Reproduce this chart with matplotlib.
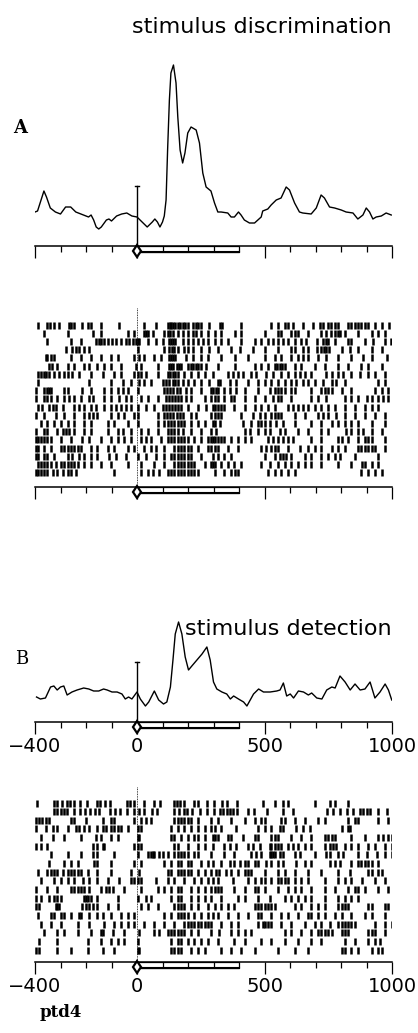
import matplotlib
matplotlib.use("Agg")
import matplotlib.pyplot as plt
from matplotlib.patches import Rectangle

plt.rcParams['font.family'] = ['DejaVu Sans']

# ---- PSTH curves (time in ms, height in arbitrary rate units) ----
psth_a_t = [-400, -390, -380, -370, -365, -355, -340, -320, -300, -280,
            -260, -240, -220, -200, -190, -180, -170, -160, -150, -140,
            -120, -110, -100, -80, -60, -40, -20, 0, 20, 40,
            60, 70, 80, 90, 100, 107, 114, 120, 127, 133,
            143, 153, 160, 169, 179, 188, 199, 212, 232, 245,
            258, 271, 290, 304, 317, 330, 356, 369, 382, 398,
            408, 421, 441, 461, 474, 487, 493, 513, 526, 546,
            565, 585, 598, 618, 637, 650, 683, 703, 722, 735,
            755, 775, 801, 820, 847, 866, 886, 899, 912, 925,
            938, 958, 977, 997]
psth_a_h = [34, 35, 43, 51, 55, 49, 38, 34, 32, 39,
            39, 34, 32, 30, 29, 31, 26, 19, 17, 19,
            26, 27, 25, 30, 32, 33, 30, 29, 24, 19,
            24, 27, 24, 19, 24, 30, 46, 96, 146, 173,
            181, 163, 129, 96, 83, 93, 113, 119, 116, 103,
            73, 59, 55, 43, 34, 34, 33, 29, 29, 34,
            31, 26, 23, 23, 26, 29, 35, 37, 41, 46,
            48, 59, 56, 43, 34, 33, 32, 38, 51, 48,
            39, 38, 36, 34, 33, 27, 31, 38, 34, 27,
            29, 30, 33, 31]

psth_b_t = [-394, -379, -359, -339, -326, -313, -300, -287, -274, -255,
            -235, -209, -189, -170, -150, -131, -117, -98, -78, -59,
            -46, -33, -20, 0, 13, 33, 46, 68, 85, 104,
            117, 131, 141, 150, 163, 176, 189, 202, 215, 235,
            255, 274, 287, 300, 313, 333, 352, 366, 379, 398,
            418, 431, 444, 457, 477, 496, 522, 548, 561, 574,
            587, 601, 614, 633, 653, 672, 685, 705, 725, 744,
            764, 777, 796, 816, 836, 855, 875, 894, 914, 933,
            953, 973, 986, 999]
psth_b_h = [25, 23, 24, 35, 36, 32, 35, 36, 27, 30,
            32, 34, 33, 31, 31, 33, 32, 30, 30, 28,
            23, 25, 23, 30, 23, 16, 20, 31, 22, 18,
            20, 35, 62, 88, 100, 88, 65, 52, 56, 62,
            68, 75, 62, 40, 33, 30, 28, 23, 26, 23,
            20, 16, 22, 28, 33, 30, 30, 31, 32, 39,
            26, 28, 24, 31, 30, 27, 29, 24, 23, 32,
            35, 34, 46, 40, 32, 38, 32, 33, 40, 24,
            30, 38, 32, 22]

# ---- spike rasters (ms, one list per trial, top trial first) ----
raster_a = [
    [-388, -351, -341, -325, -305, -266, -257, -246, -214, -191, -181, -141, -69, 29, 75, 121, 128, 135, 142, 150, 160, 170, 180, 190, 199, 219, 230, 240, 252, 284, 324, 334, 409, 527, 553, 579, 592, 612, 651, 690, 717, 730, 749, 762, 776, 789, 828, 841, 854, 867, 880, 893, 907, 933, 959, 989],
    [-364, -272, -174, -141, -37, -10, 29, 36, 42, 62, 107, 121, 130, 140, 160, 179, 199, 219, 230, 252, 278, 304, 330, 383, 409, 501, 553, 566, 605, 618, 631, 671, 723, 743, 762, 776, 789, 796, 815, 867, 920, 946, 972],
    [-351, -259, -220, -161, -150, -140, -130, -115, -100, -82, -63, -43, -30, -17, -4, 3, 9, 42, 75, 101, 127, 135, 142, 150, 179, 199, 219, 238, 258, 278, 304, 330, 356, 409, 461, 487, 514, 533, 553, 572, 592, 618, 645, 664, 705, 730, 740, 749, 776, 828, 841, 893, 926, 972, 998],
    [-279, -253, -240, -227, -207, -187, 3, 107, 127, 137, 147, 160, 186, 199, 219, 252, 284, 317, 369, 402, 455, 501, 553, 605, 618, 651, 671, 705, 723, 733, 743, 753, 802, 835, 867, 920, 959],
    [-358, -351, -338, -325, -259, -220, -181, -141, -102, -76, -10, 9, 29, 68, 94, 127, 135, 142, 150, 193, 219, 252, 278, 330, 383, 435, 501, 540, 566, 605, 631, 651, 671, 710, 743, 789, 841, 887, 920, 979],
    [-345, -332, -312, -272, -246, -207, -187, -155, -128, -102, -63, -4, 16, 81, 127, 135, 142, 155, 165, 173, 199, 210, 220, 230, 240, 250, 271, 317, 383, 461, 487, 514, 540, 550, 560, 570, 579, 618, 645, 697, 736, 789, 828, 880, 907, 959],
    [-390, -377, -364, -357, -344, -325, -305, -286, -272, -253, -227, -181, -135, -89, -63, -10, 3, 16, 35, 81, 121, 130, 140, 150, 160, 186, 212, 238, 265, 298, 356, 376, 396, 415, 448, 468, 507, 533, 566, 592, 618, 638, 658, 684, 743, 763, 789, 808, 841, 874, 907, 933, 972],
    [-390, -187, -102, -56, -24, 9, 29, 55, 101, 114, 127, 140, 150, 160, 180, 199, 225, 252, 284, 317, 324, 363, 389, 435, 474, 500, 527, 553, 579, 605, 625, 651, 671, 697, 730, 763, 782, 815, 946, 972],
    [-397, -364, -351, -344, -338, -286, -272, -214, -181, -128, -102, -76, -56, -37, 3, 107, 118, 130, 142, 155, 168, 193, 212, 252, 291, 297, 310, 317, 343, 363, 389, 422, 474, 520, 540, 553, 566, 579, 605, 618, 684, 723, 736, 749, 763, 802, 841, 933, 959, 985],
    [-397, -364, -351, -338, -312, -286, -266, -246, -220, -187, -174, -128, -102, -69, -43, -24, 16, 42, 81, 114, 125, 137, 150, 162, 173, 193, 212, 265, 291, 304, 317, 343, 369, 382, 422, 461, 500, 533, 553, 566, 605, 684, 710, 743, 815, 841, 867, 900, 920, 946, 966, 985],
    [-390, -371, -344, -331, -318, -292, -246, -227, -207, -181, -161, -128, -102, -82, -63, -43, -24, 3, 35, 68, 101, 112, 125, 137, 150, 162, 173, 199, 238, 271, 297, 304, 317, 330, 343, 382, 422, 461, 487, 514, 540, 592, 612, 631, 651, 671, 697, 723, 749, 776, 815, 854, 893, 920, 946],
    [-397, -364, -318, -286, -246, -207, -187, -174, -155, -102, -76, -50, -10, 3, 81, 107, 118, 130, 142, 155, 168, 180, 212, 232, 291, 304, 317, 330, 409, 455, 481, 500, 527, 540, 553, 566, 618, 658, 710, 730, 749, 782, 815, 854, 893, 933, 972],
    [-377, -351, -325, -299, -272, -246, -207, -181, -115, -89, -37, 3, 81, 107, 120, 133, 147, 160, 173, 186, 212, 238, 265, 297, 304, 324, 415, 448, 474, 487, 500, 520, 546, 572, 618, 684, 723, 763, 789, 815, 841, 867, 920, 972],
    [-398, -364, -351, -312, -292, -279, -266, -246, -207, -181, -115, -76, -56, -24, 16, 42, 81, 121, 133, 147, 160, 180, 212, 252, 291, 310, 422, 442, 474, 500, 520, 559, 579, 631, 671, 723, 749, 821, 841, 867, 887, 920, 959],
    [-398, -390, -377, -364, -351, -338, -299, -259, -214, -187, -141, -102, -76, -50, -24, 16, 35, 55, 94, 121, 134, 147, 160, 173, 186, 199, 225, 252, 278, 291, 297, 304, 317, 330, 343, 369, 396, 422, 448, 514, 533, 553, 572, 592, 612, 684, 723, 789, 802, 828, 867, 893, 907, 920, 972],
    [-398, -390, -364, -338, -299, -286, -272, -259, -246, -233, -220, -181, -155, -115, -89, -37, -10, 29, 55, 75, 107, 147, 160, 173, 186, 199, 212, 238, 278, 291, 304, 317, 356, 396, 487, 507, 527, 540, 553, 592, 638, 671, 697, 723, 763, 789, 815, 867, 880, 893, 907, 920, 933, 972],
    [-398, -390, -364, -351, -325, -272, -253, -227, -207, -181, -155, -109, -82, -43, 3, 35, 75, 107, 134, 147, 160, 173, 186, 199, 212, 252, 297, 317, 343, 369, 500, 540, 559, 572, 586, 605, 658, 684, 723, 749, 776, 795, 854, 946],
    [-390, -377, -364, -351, -338, -318, -299, -286, -272, -259, -246, -233, -207, -181, -141, -102, -37, 16, 68, 107, 147, 160, 173, 186, 199, 212, 225, 265, 291, 297, 304, 330, 356, 382, 409, 487, 520, 553, 579, 605, 631, 658, 684, 723, 789, 841, 881, 893, 920, 946],
    [-398, -390, -377, -364, -351, -331, -312, -292, -272, -259, -240, -89, 16, 42, 62, 88, 121, 133, 147, 160, 173, 186, 199, 212, 225, 240, 304, 343, 369, 383, 396, 514, 540, 566, 592, 618, 880, 907, 933, 959],
]

raster_b = [
    [-392, -326, -313, -294, -274, -261, -248, -222, -196, -157, -144, -124, -104, -39, -26, -13, 26, 65, 91, 144, 157, 170, 183, 222, 241, 274, 300, 333, 352, 392, 496, 542, 574, 594, 698, 757, 777, 829],
    [-326, -313, -300, -287, -274, -248, -222, -202, -183, -163, -150, -104, -85, -65, -39, -13, 7, 26, 59, 78, 144, 163, 183, 196, 215, 248, 274, 300, 326, 339, 352, 365, 378, 392, 437, 457, 509, 574, 613, 744, 770, 796, 822, 848, 874, 887, 900, 913, 946, 979],
    [-397, -384, -371, -357, -344, -259, -246, -200, -135, -102, -89, -10, 16, 35, 55, 147, 160, 173, 186, 199, 212, 238, 291, 317, 369, 422, 461, 487, 500, 566, 579, 618, 658, 710, 736, 828, 854, 867, 946, 985],
    [-397, -357, -331, -312, -272, -240, -227, -207, -187, -155, -135, -122, -102, -89, -76, -63, -37, 3, 16, 134, 160, 186, 212, 238, 265, 291, 304, 330, 389, 474, 500, 527, 559, 572, 625, 651, 677, 802, 828, 835],
    [-377, -331, -286, -220, -161, -141, -102, -76, 3, 9, 134, 147, 173, 199, 225, 238, 265, 297, 304, 317, 356, 369, 415, 461, 474, 527, 540, 553, 605, 645, 684, 736, 749, 763, 776, 841, 893, 946, 966, 985, 999],
    [-397, -377, -351, -174, -155, -135, -128, -10, 3, 16, 147, 160, 199, 238, 265, 297, 343, 363, 389, 435, 455, 481, 520, 527, 540, 553, 566, 592, 612, 631, 658, 684, 736, 756, 769, 782, 815, 841, 867, 907, 933, 972, 999],
    [-338, -272, -220, -174, -155, -89, 3, 42, 55, 62, 68, 88, 101, 121, 147, 160, 173, 186, 199, 225, 238, 291, 343, 382, 448, 468, 487, 520, 527, 533, 540, 559, 572, 618, 638, 697, 743, 756, 789, 808, 867, 900, 940, 972, 999],
    [-344, -286, -259, -233, -168, -155, -102, -10, 16, 107, 134, 160, 173, 199, 212, 252, 278, 297, 330, 363, 382, 402, 422, 435, 461, 474, 507, 527, 553, 572, 625, 658, 684, 756, 776, 795, 841, 867, 880, 893, 907, 920, 946],
    [-390, -351, -338, -325, -312, -292, -272, -259, -246, -233, -220, -194, -155, -102, -24, 9, 121, 134, 160, 173, 186, 199, 212, 238, 265, 291, 310, 323, 350, 369, 396, 422, 435, 448, 500, 553, 579, 618, 671, 723, 789, 835, 907, 920, 946, 959],
    [-377, -325, -299, -272, -246, -213, -187, -155, -115, -69, -24, -10, 3, 16, 75, 121, 147, 186, 225, 252, 278, 297, 317, 376, 435, 461, 487, 500, 527, 553, 566, 579, 592, 618, 645, 671, 736, 789, 815, 841, 881, 933, 972],
    [-398, -351, -312, -259, -246, -233, -220, -207, -187, -141, -122, -109, -96, -50, 16, 81, 107, 134, 160, 173, 212, 238, 265, 291, 304, 317, 330, 382, 422, 461, 474, 500, 553, 592, 618, 645, 684, 736, 776, 828, 854, 867, 893, 946, 985],
    [-398, -377, -344, -325, -312, -299, -207, -200, -194, -181, -155, -76, 3, 35, 55, 134, 160, 173, 212, 238, 265, 291, 330, 396, 422, 474, 520, 579, 605, 631, 658, 684, 736, 789, 815, 841, 867],
    [-398, -384, -318, -312, -305, -214, -200, -187, -174, -155, -115, -76, 16, 42, 81, 147, 160, 173, 186, 212, 238, 278, 304, 330, 356, 382, 461, 474, 487, 500, 513, 527, 540, 618, 645, 684, 710, 736, 789, 802, 815, 828, 907, 920, 972, 985],
    [-390, -338, -325, -299, -286, -259, -227, -220, -187, -155, -135, -102, -63, -37, -10, 107, 134, 160, 173, 186, 199, 225, 252, 278, 297, 317, 356, 396, 435, 474, 487, 527, 566, 592, 631, 671, 684, 710, 736, 776, 802, 841, 893, 920, 972],
    [-377, -338, -299, -233, -187, -128, -89, -63, -37, -10, 29, 68, 107, 147, 186, 199, 212, 225, 238, 252, 265, 278, 291, 330, 369, 396, 474, 494, 500, 513, 527, 566, 605, 658, 697, 723, 756, 789, 802, 815, 828, 841, 854, 933, 972, 999],
    [-364, -312, -286, -233, -181, -141, -135, -96, -50, 9, 68, 88, 121, 134, 147, 160, 173, 186, 212, 238, 291, 323, 369, 396, 422, 448, 579, 605, 645, 684, 710, 723, 736, 749, 763, 802, 815, 828, 907, 920, 933, 972],
    [-384, -312, -194, -141, -102, -76, -50, 3, 134, 160, 173, 199, 225, 252, 278, 317, 382, 422, 487, 527, 579, 631, 684, 723, 815, 854, 907, 933, 953],
    [-397, -384, -312, -259, -194, -135, -89, 3, 9, 134, 147, 160, 173, 212, 238, 265, 330, 369, 409, 461, 553, 618, 671, 802, 815, 841, 867, 920, 946, 959],
]

tick_labels = ['\u2212400', '0', '500', '1000']
major_ticks = [-400, 0, 500, 1000]
minor_ticks = [-300, -200, -100, 600, 700, 800, 900]

W, H = 418, 1033
X0, X1 = 35, 392
fig = plt.figure(figsize=(W / 100, H / 100), dpi=100)


def px_axes(y0, y1):
    return fig.add_axes([X0 / W, 1 - y1 / H, (X1 - X0) / W, (y1 - y0) / H])


def time_axis(ax, y0, s, labels):
    # s = data units per pixel (upwards)
    for sp in ['top', 'right', 'left']:
        ax.spines[sp].set_visible(False)
    ax.spines['bottom'].set_position(('data', y0))
    ax.spines['bottom'].set_linewidth(1.1)
    ax.set_xlim(-400, 1000)
    ax.set_yticks([])
    ax.set_xticks(major_ticks)
    ax.set_xticks(minor_ticks, minor=True)
    ax.tick_params(which='major', direction='out', length=8.5, width=0.9, pad=2)
    ax.tick_params(which='minor', direction='out', length=4.5, width=0.9)
    if labels:
        ax.set_xticklabels(tick_labels, fontsize=14)
    else:
        ax.tick_params(labelbottom=False)
    ax.patch.set_visible(False)
    # stimulus bar
    yb = y0 - 5.7 * s
    ax.add_patch(Rectangle((0, yb), 400, y0 - yb, fill=False, lw=0.9,
                           ec='black', clip_on=False))
    ax.vlines([100, 200, 300], yb, y0, color='black', lw=0.9, clip_on=False)
    ax.plot([0, 400], [yb, yb], color='black', lw=1.5, clip_on=False)
    ax.plot([0], [y0 - 5.0 * s], marker='d', ms=6.5, mfc='white', mec='black',
            mew=1.6, zorder=6, clip_on=False)


def psth(ax, t, h, axis_y, top_y, bot_y, labels):
    ax.plot(t, h, color='black', lw=1.0)
    ax.set_ylim(-(bot_y - axis_y), axis_y - top_y)
    ax.plot([0, 0], [0, 60], color='black', lw=1.0)
    ax.plot([-9, 9], [60, 60], color='black', lw=1.0)
    time_axis(ax, 0, 1.0, labels)


def raster(ax, rows, first_y, step, axis_y, top_y, bot_y, line_top, labels):
    n = len(rows)
    ax.eventplot(rows, lineoffsets=list(range(n)), linelengths=7.0 / step,
                 linewidths=1.8, colors='black')
    ax.set_ylim((bot_y - first_y) / step, (top_y - first_y) / step)
    y0 = (axis_y - first_y) / step
    ax.plot([0, 0], [(line_top - first_y) / step, y0], color='black',
            lw=0.6, ls=(0, (1, 1)))
    time_axis(ax, y0, -1.0 / step, labels)


ax_pa = px_axes(50, 270)
psth(ax_pa, psth_a_t, psth_a_h, 246, 50, 270, False)

ax_ra = px_axes(300, 505)
raster(ax_ra, raster_a, 325, 8.2, 487, 300, 505, 308, False)

ax_pb = px_axes(600, 760)
psth(ax_pb, psth_b_t, psth_b_h, 722, 600, 760, True)

ax_rb = px_axes(780, 975)
raster(ax_rb, raster_b, 803, 8.65, 962, 780, 975, 787, True)

fig.text(392 / W, 1 - 33 / H, 'stimulus discrimination', ha='right',
         va='baseline', fontsize=16)
fig.text(13 / W, 1 - 133 / H, 'A', ha='left', va='baseline', fontsize=13,
         family='DejaVu Serif', weight='bold')
fig.text(392 / W, 1 - 635 / H, 'stimulus detection', ha='right',
         va='baseline', fontsize=16)
fig.text(15 / W, 1 - 664 / H, 'B', ha='left', va='baseline', fontsize=13,
         family='DejaVu Serif')
fig.text(40 / W, 1 - 1017 / H, 'ptd4', ha='left', va='baseline', fontsize=12,
         family='DejaVu Serif', weight='bold')

fig.savefig('out.png', dpi=100)
